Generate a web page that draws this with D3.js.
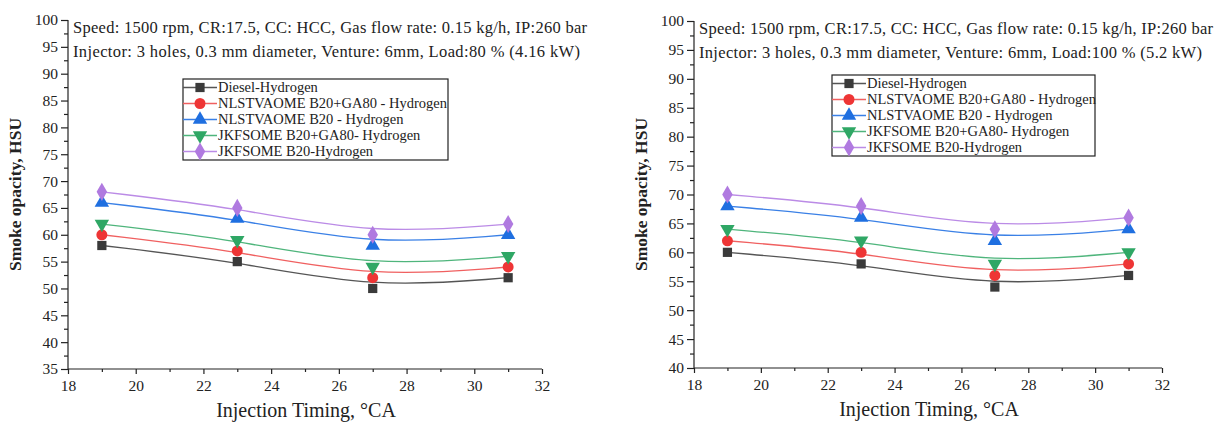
<!DOCTYPE html>
<html>
<head>
<meta charset="utf-8">
<script src="https://cdn.jsdelivr.net/npm/d3@7"></script>
<style>
  html, body { margin: 0; padding: 0; background: #fff; }
  svg { display: block; }
  text { font-family: "Liberation Serif", "Times New Roman", serif; fill: #222; }
</style>
</head>
<body>
<svg id="chart" width="1218" height="425"></svg>
<script>
// ---- Data ----
const injectionTiming = [19, 23, 27, 31];
const seriesNames = [
  "Diesel-Hydrogen",
  "NLSTVAOME B20+GA80 - Hydrogen",
  "NLSTVAOME B20 - Hydrogen",
  "JKFSOME B20+GA80- Hydrogen",
  "JKFSOME B20-Hydrogen"
];
// Load 80 % (4.16 kW)
const load80Diesel   = [58, 55, 50, 52];
const load80NlsGa    = [60, 57, 52, 54];
const load80Nls      = [66, 63, 58, 60];
const load80JkfGa    = [62, 59, 54, 56];
const load80Jkf      = [68, 65, 60, 62];
// Load 100 % (5.2 kW)
const load100Diesel  = [60, 58, 54, 56];
const load100NlsGa   = [62, 60, 56, 58];
const load100Nls     = [68, 66, 62, 64];
const load100JkfGa   = [64, 62, 58, 60];
const load100Jkf     = [70, 68, 64, 66];

const xTicks = [18, 20, 22, 24, 26, 28, 30, 32];
const yTicksLeft = [35, 40, 45, 50, 55, 60, 65, 70, 75, 80, 85, 90, 95, 100];
const yTicksRight = [40, 45, 50, 55, 60, 65, 70, 75, 80, 85, 90, 95, 100];

const infoLine1 = "Speed: 1500 rpm, CR:17.5, CC: HCC, Gas flow rate: 0.15 kg/h, IP:260 bar";
const infoLine2Left = "Injector: 3 holes, 0.3 mm diameter, Venture: 6mm, Load:80 % (4.16 kW)";
const infoLine2Right = "Injector: 3 holes, 0.3 mm diameter, Venture: 6mm, Load:100 % (5.2 kW)";
const yTitle = "Smoke opacity, HSU";
const xTitle = "Injection Timing, \u00B0CA";

// ---- Styles ----
const FONT = '"Liberation Serif", "Times New Roman", serif';
const markerColors = ["#3a3a3a", "#ee3535", "#1f6fe0", "#2fa765", "#b07ae0"];
const lineColors   = ["#555555", "#f06060", "#3a80e6", "#4fb57c", "#bb8be6"];
const markerSymbols = [d3.symbolSquare, d3.symbolCircle, d3.symbolTriangle, d3.symbolTriangle, d3.symbolDiamond];
const markerRot = [0, 0, 0, 180, 0];
const markerSizes = [85, 95, 90, 90, 95];

const svg = d3.select("#chart");

function drawPanel(opt) {
  const g = svg.append("g");
  const x = d3.scaleLinear().domain([18, 32]).range([opt.x0, opt.x1]);
  const y = d3.scaleLinear().domain(opt.yDomain).range([opt.y1, opt.y0]);

  // y axis
  const yMinor = d3.range(opt.yDomain[0], opt.yDomain[1] + 0.01, 2.5).filter(v => v % 5 !== 0);
  g.append("g").attr("transform", `translate(${opt.x0},0)`)
    .call(d3.axisLeft(y).tickValues(yMinor).tickSize(4).tickFormat(""))
    .call(s => s.select(".domain").remove());
  const ya = g.append("g").attr("transform", `translate(${opt.x0},0)`)
    .call(d3.axisLeft(y).tickValues(opt.yTicks).tickSize(7).tickPadding(3).tickFormat(d3.format("d")));
  ya.select(".domain").attr("d", `M0,${opt.y0}V${opt.y1}`);

  // x axis
  const xMinor = d3.range(19, 32, 2);
  g.append("g").attr("transform", `translate(0,${opt.y1})`)
    .call(d3.axisBottom(x).tickValues(xMinor).tickSize(3).tickFormat(""))
    .call(s => s.select(".domain").remove());
  const xa = g.append("g").attr("transform", `translate(0,${opt.y1})`)
    .call(d3.axisBottom(x).tickValues(xTicks).tickSize(5).tickPadding(6).tickFormat(d3.format("d")));
  xa.select(".domain").attr("d", `M${opt.x0},0H${opt.x1}`);

  ya.attr("font-family", FONT).attr("font-size", 15.5);
  xa.attr("font-family", FONT).attr("font-size", 15.5);
  g.selectAll(".tick text").attr("fill", "#333");
  g.selectAll(".domain, .tick line").attr("stroke", "#222").attr("stroke-width", 1.2);

  // titles
  g.append("text")
    .attr("transform", `translate(${opt.x0 - 47},${(opt.y0 + opt.y1) / 2}) rotate(-90)`)
    .attr("text-anchor", "middle")
    .attr("font-size", 17.5).attr("font-weight", "bold").attr("fill", "#222")
    .text(yTitle);
  g.append("text")
    .attr("x", (opt.x0 + opt.x1) / 2 + 1).attr("y", opt.y1 + 48)
    .attr("text-anchor", "middle")
    .attr("font-size", 20)
    .text(xTitle);

  // info text
  g.append("text").attr("x", opt.x0 + 5).attr("y", opt.y0 + 13).attr("font-size", 16.5)
    .attr("textLength", opt.info1W).attr("lengthAdjust", "spacing").text(infoLine1);
  g.append("text").attr("x", opt.x0 + 5).attr("y", opt.y0 + 37).attr("font-size", 16.5)
    .attr("textLength", opt.info2W).attr("lengthAdjust", "spacing").text(opt.info2);

  // series
  const line = d3.line().x((d, i) => x(injectionTiming[i])).y(d => y(d)).curve(d3.curveBasis);
  opt.series.forEach((vals, k) => {
    g.append("path").datum(vals).attr("d", line)
      .attr("fill", "none").attr("stroke", lineColors[k]).attr("stroke-width", 1.3);
  });
  opt.series.forEach((vals, k) => {
    g.selectAll(null).data(vals).enter().append("path")
      .attr("d", d3.symbol().type(markerSymbols[k]).size(markerSizes[k]))
      .attr("transform", (d, i) => `translate(${x(injectionTiming[i])},${y(d)}) rotate(${markerRot[k]})`)
      .attr("fill", markerColors[k]);
  });

  // legend
  const lg = g.append("g");
  const rowH = 16;
  lg.append("rect").attr("x", opt.legX).attr("y", opt.legY).attr("width", opt.legW).attr("height", rowH * 5 + 1)
    .attr("fill", "#fff").attr("stroke", "#222").attr("stroke-width", 1.2);
  seriesNames.forEach((name, k) => {
    const cy = opt.legY + 8.5 + k * rowH;
    lg.append("line").attr("x1", opt.legX).attr("x2", opt.legX + 34).attr("y1", cy).attr("y2", cy)
      .attr("stroke", lineColors[k]).attr("stroke-width", 1.3);
    lg.append("path").attr("d", d3.symbol().type(markerSymbols[k]).size(markerSizes[k]))
      .attr("transform", `translate(${opt.legX + 17},${cy}) rotate(${markerRot[k]})`)
      .attr("fill", markerColors[k]);
    lg.append("text").attr("x", opt.legX + 35).attr("y", cy + 4.5).attr("font-size", 14.5).text(name);
  });
}

drawPanel({
  x0: 68, x1: 542, y0: 20, y1: 369,
  yDomain: [35, 100], yTicks: yTicksLeft,
  info2: infoLine2Left, info1W: 514, info2W: 507,
  series: [load80Diesel, load80NlsGa, load80Nls, load80JkfGa, load80Jkf],
  legX: 183, legY: 79, legW: 265
});
drawPanel({
  x0: 694, x1: 1162, y0: 21, y1: 368,
  yDomain: [40, 100], yTicks: yTicksRight,
  info2: infoLine2Right, info1W: 514, info2W: 503,
  series: [load100Diesel, load100NlsGa, load100Nls, load100JkfGa, load100Jkf],
  legX: 832, legY: 75, legW: 263
});
</script>
</body>
</html>
